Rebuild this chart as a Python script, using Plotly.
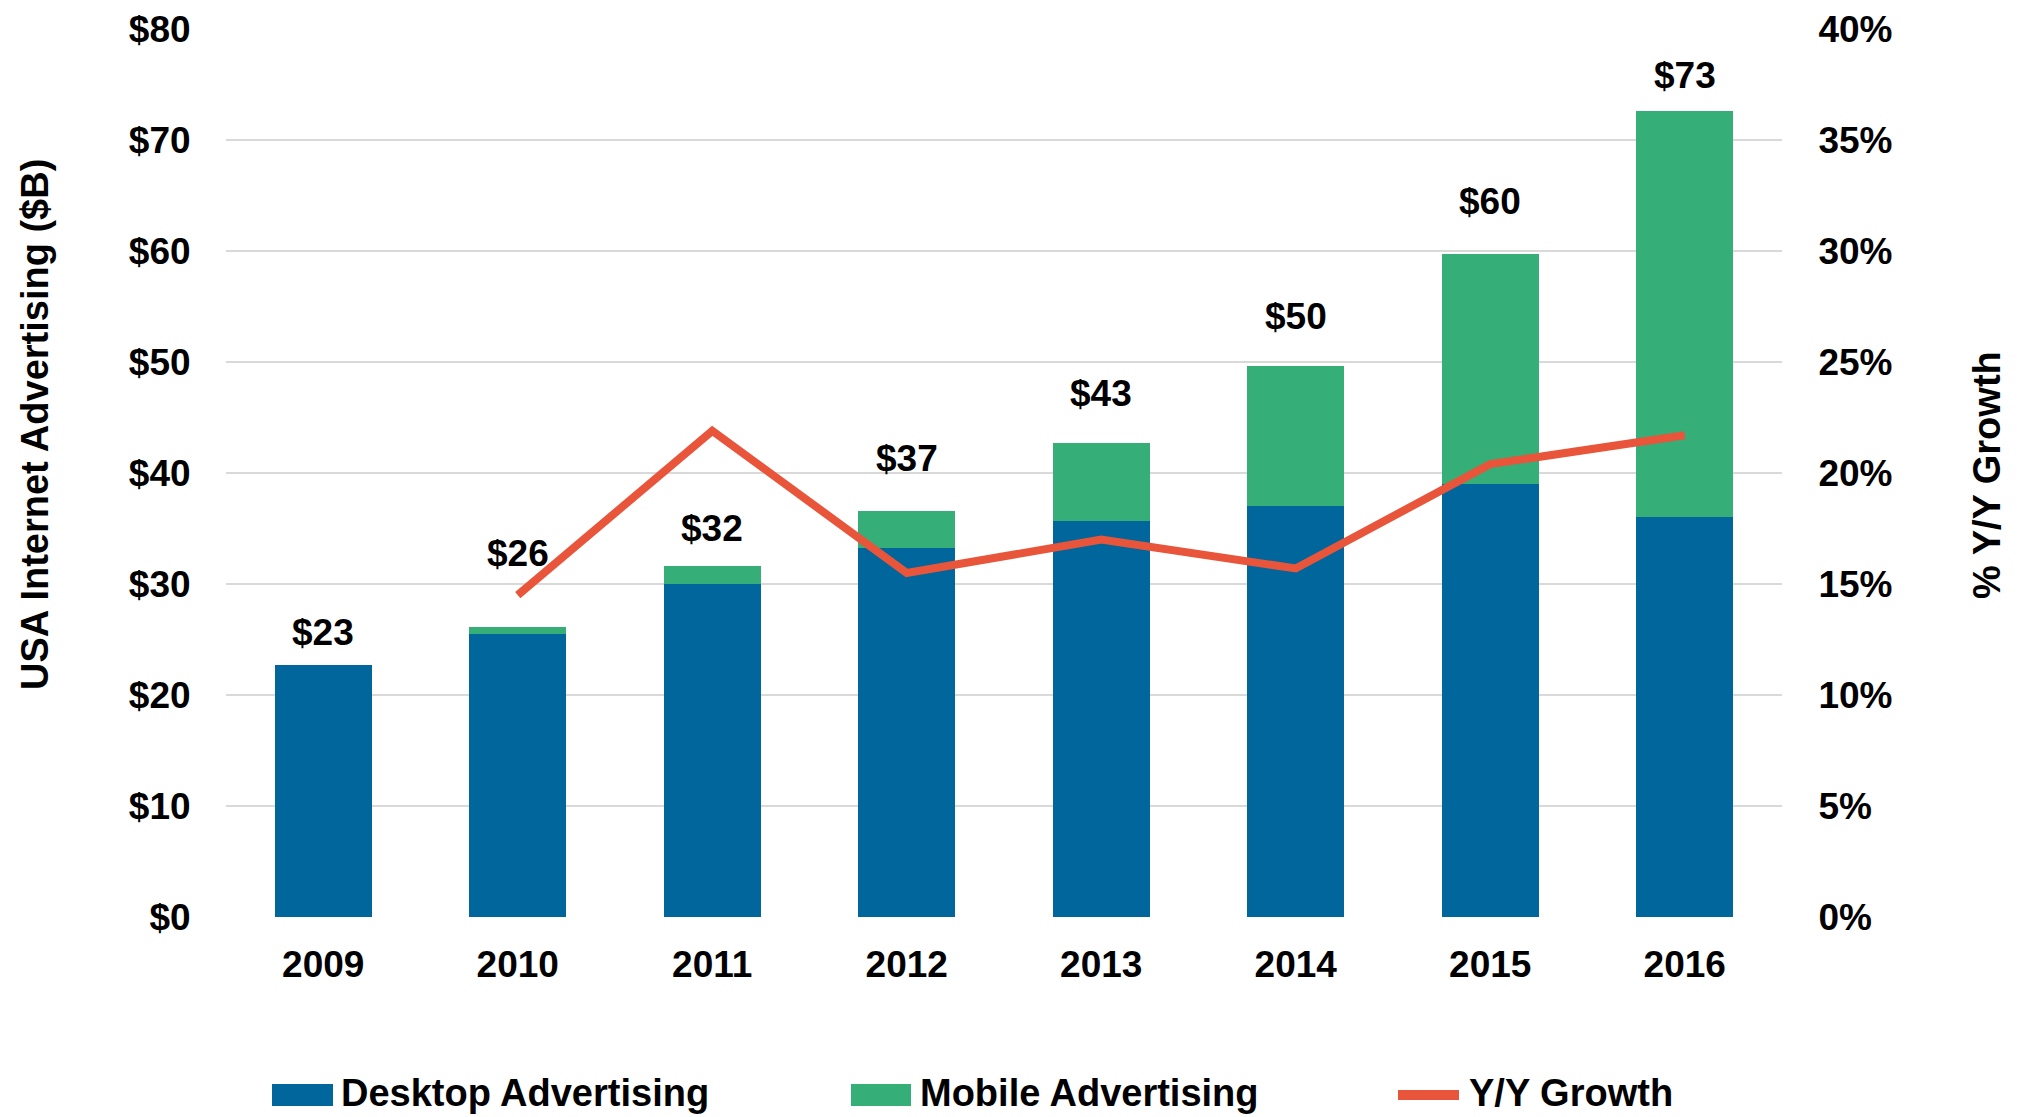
import plotly.graph_objects as go

years = ["2009", "2010", "2011", "2012", "2013", "2014", "2015", "2016"]
desktop = [22.7, 25.5, 30.0, 33.2, 35.7, 37.0, 39.0, 36.0]
mobile = [0.0, 0.6, 1.6, 3.4, 7.0, 12.6, 20.7, 36.6]
growth = [None, 14.5, 21.9, 15.5, 17.0, 15.7, 20.4, 21.7]
left_ticks = [0, 10, 20, 30, 40, 50, 60, 70, 80]
right_ticks = [0, 5, 10, 15, 20, 25, 30, 35, 40]
# extra vertical lift (px) of each total label above its bar, as placed in the reference
label_lift = [10, 51, 15, 30, 27, 27, 30, 13]

C_DESK = "#00669C"
C_MOB = "#35AE78"
C_LINE = "#E8553A"
FONT = "Liberation Sans, Arial, sans-serif"
FS = 37
LFS = 38

# page body margin of the default html is 8px
OFF = 8
W, H = 2021 - OFF, 1117 - OFF
L, R, T, B = 218, 239, 21, 200
PW, PH = W - L - R, H - T - B


def px(x):
    return (x - OFF - L) / PW


def py(y):
    return (H - B - (y - OFF)) / PH


totals = [d + m for d, m in zip(desktop, mobile)]

fig = go.Figure()
fig.add_trace(go.Bar(x=years, y=desktop, name="Desktop Advertising",
                     marker=dict(color=C_DESK, line=dict(width=0)), showlegend=False))
fig.add_trace(go.Bar(x=years, y=mobile, name="Mobile Advertising",
                     marker=dict(color=C_MOB, line=dict(width=0)), showlegend=False))
fig.add_trace(go.Scatter(x=years, y=growth, name="Y/Y Growth", yaxis="y2", mode="lines",
                         line=dict(color=C_LINE, width=8), showlegend=False))

bold = dict(color="black", weight="bold")
annotations = []
for i, (t, lift) in enumerate(zip(totals, label_lift)):
    annotations.append(dict(x=i, y=t, xref="x", yref="y", text=f"${int(t + 0.5)}",
                            showarrow=False, yanchor="bottom", yshift=lift,
                            font=dict(family=FONT, size=FS, **bold)))

# axis titles
annotations.append(dict(x=px(35), y=py(425), xref="paper", yref="paper",
                        text="USA Internet Advertising ($B)", textangle=-90, showarrow=False,
                        xanchor="center", yanchor="middle",
                        font=dict(family=FONT, size=38, **bold)))
annotations.append(dict(x=px(1987), y=py(475), xref="paper", yref="paper",
                        text="% Y/Y Growth", textangle=-90, showarrow=False,
                        xanchor="center", yanchor="middle",
                        font=dict(family=FONT, size=38, **bold)))

# manual legend (page coordinates)
shapes = [
    dict(type="rect", xref="paper", yref="paper", x0=px(272), x1=px(333),
         y0=py(1106), y1=py(1084), fillcolor=C_DESK, line=dict(width=0)),
    dict(type="rect", xref="paper", yref="paper", x0=px(851), x1=px(911),
         y0=py(1106), y1=py(1084), fillcolor=C_MOB, line=dict(width=0)),
    dict(type="line", xref="paper", yref="paper", x0=px(1398), x1=px(1459),
         y0=py(1095), y1=py(1095), line=dict(color=C_LINE, width=10)),
]
for xx, txt in [(339, "Desktop Advertising"), (918, "Mobile Advertising"), (1467, "Y/Y Growth")]:
    annotations.append(dict(x=px(xx), y=py(1093), xref="paper", yref="paper", text=txt,
                            showarrow=False, xanchor="left", yanchor="middle",
                            font=dict(family=FONT, size=LFS, **bold)))

fig.update_layout(
    width=W, height=H,
    margin=dict(l=L, r=R, t=T, b=B, autoexpand=False),
    paper_bgcolor="white", plot_bgcolor="white",
    barmode="stack", bargap=0.5,
    font=dict(family=FONT, size=FS, color="black"),
    xaxis=dict(type="category", range=[-0.5, 7.5], showgrid=False, showline=False,
               zeroline=False, ticks="outside", ticklen=15, tickcolor="rgba(0,0,0,0)",
               tickfont=dict(family=FONT, size=FS, **bold)),
    yaxis=dict(range=[0, 80], tickvals=left_ticks, ticktext=[f"${v}" for v in left_ticks],
               showgrid=True, gridcolor="#D9D9D9", gridwidth=2, zeroline=False,
               showline=False, ticks="outside", ticklen=27, tickcolor="rgba(0,0,0,0)",
               tickfont=dict(family=FONT, size=FS, **bold)),
    yaxis2=dict(range=[0, 40], overlaying="y", side="right", tickvals=right_ticks,
                ticktext=[f"{v}%" for v in right_ticks], showgrid=False, zeroline=False,
                showline=False, ticks="outside", ticklen=28, tickcolor="rgba(0,0,0,0)",
                tickfont=dict(family=FONT, size=FS, **bold)),
    annotations=annotations, shapes=shapes,
)

fig.write_html("out.html")
